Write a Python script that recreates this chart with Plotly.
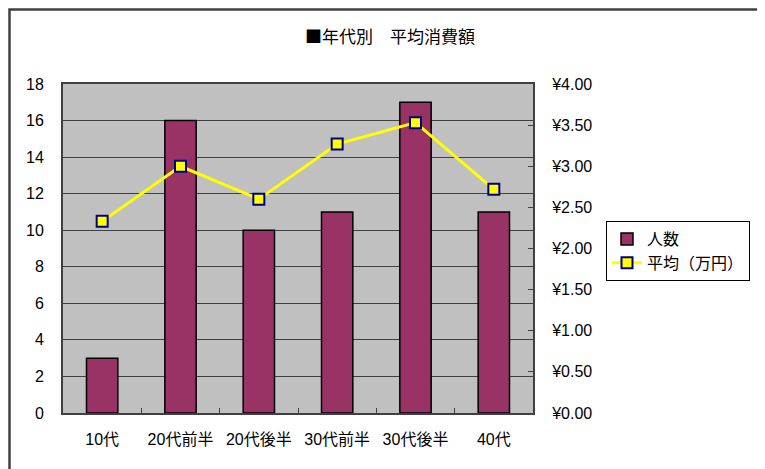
import plotly.graph_objects as go

categories = ["10代", "20代前半", "20代後半", "30代前半", "30代後半", "40代"]
ninzu = [3, 16, 10, 11, 17, 11]
heikin = [2.33, 3.00, 2.60, 3.27, 3.53, 2.72]

# 参照画像上のプロット領域 (ページ余白 8px を差し引いて使う)
OFF = 8
W, H = 765, 469
L, R, T, B = 63, 533, 84, 413


def px(x):
    return (x - L) / (R - L)


def py(y):
    return (B - y) / (B - T)


font = "Liberation Sans, Noto Sans CJK JP, sans-serif"

fig = go.Figure()

fig.add_trace(go.Bar(
    x=categories, y=ninzu, name="人数",
    marker=dict(color="#993366", line=dict(color="black", width=1.5)),
    yaxis="y",
))
fig.add_trace(go.Scatter(
    x=categories, y=heikin, name="平均（万円）", mode="lines+markers",
    line=dict(color="#FFFF00", width=3),
    marker=dict(symbol="square", size=11, color="#FFFF00",
                line=dict(color="#000080", width=2)),
    yaxis="y2",
))

# グラフエリアの枠線 (ページ余白の分だけ内側に描く)
shapes = [
    dict(type="path", xref="paper", yref="paper",
         path=f"M {px(9.5)},{py(470)} L {px(9.5)},{py(9.5)} L {px(770)},{py(9.5)}",
         line=dict(color="#404040", width=2.5)),
]

fig.update_layout(
    width=W, height=H,
    margin=dict(l=L - OFF, r=W - (R - OFF), t=T - OFF, b=H - (B - OFF)),
    paper_bgcolor="white",
    plot_bgcolor="#C0C0C0",
    font=dict(family=font, size=16, color="black"),
    title=dict(text="■年代別　平均消費額", x=(390 - OFF) / W, xanchor="center",
               y=1 - (37 - OFF) / H, yanchor="middle",
               font=dict(family="Noto Sans CJK JP, sans-serif", size=17)),
    bargap=0.6,
    showlegend=True,
    legend=dict(x=px(606), y=py(221), xanchor="left", yanchor="top",
                bordercolor="black", borderwidth=1, bgcolor="white",
                font=dict(size=16), tracegroupgap=0),
    xaxis=dict(showline=True, mirror=True, linecolor="#404040", linewidth=1.5,
               ticks="inside", tickson="boundaries", ticklen=5,
               tickcolor="#404040", showgrid=False, ticklabelstandoff=11),
    yaxis=dict(range=[0, 18], dtick=2, showline=True, linecolor="#404040",
               linewidth=2, ticks="inside", ticklen=5, tickcolor="#404040",
               gridcolor="#404040", gridwidth=1, zeroline=False,
               ticklabelstandoff=14),
    yaxis2=dict(range=[0, 4], dtick=0.5, overlaying="y", side="right",
                tickprefix="¥", tickformat=".2f", showline=True,
                linecolor="#404040", linewidth=2, ticks="inside", ticklen=5,
                tickcolor="#404040", showgrid=False, zeroline=False,
                ticklabelstandoff=14),
    shapes=shapes,
)

fig.write_html("out.html")
